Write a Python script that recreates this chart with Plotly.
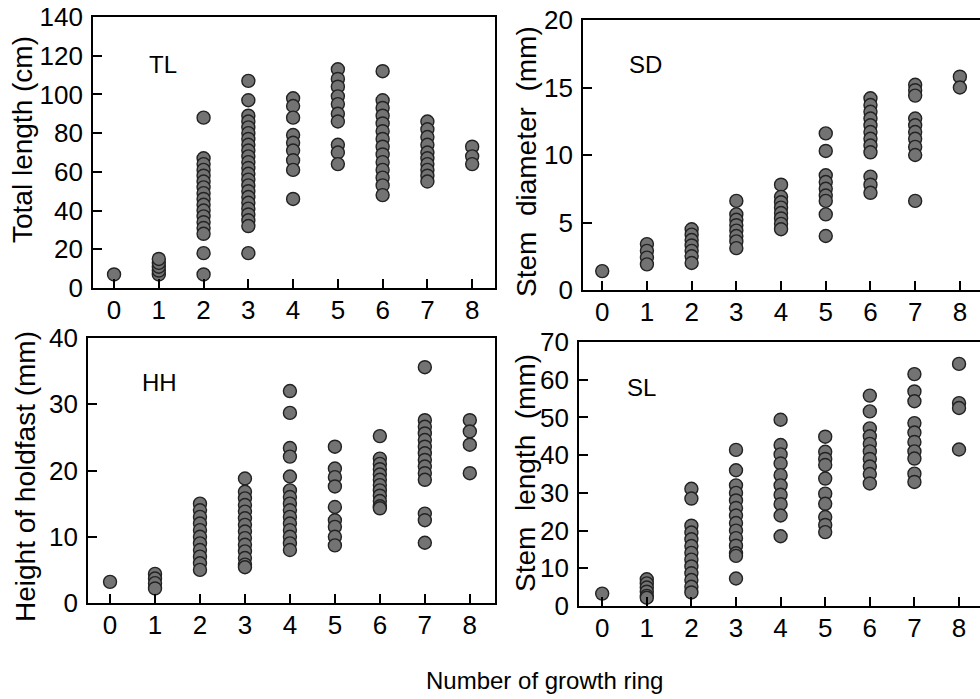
import plotly.graph_objects as go

# Growth-ring classes (x axis)
rings = [0, 1, 2, 3, 4, 5, 6, 7, 8]

# Measurements grouped by number of growth rings (one inner list per ring class)
total_length_cm = [
    [7],
    [7, 9, 11, 13, 15],
    [88, 67, 64, 61, 58, 55, 52, 49, 46, 43, 40, 37, 34, 31, 28, 18, 7],
    [107, 97, 89, 86, 83, 80, 77, 74, 71, 68, 65, 62, 59, 56, 53, 50, 47, 44, 41, 38, 35, 32, 18],
    [98, 94, 88, 79, 75, 71, 66, 61, 46],
    [113, 108, 104, 99, 95, 90, 86, 74, 70, 64],
    [112, 97, 93, 89, 85, 81, 77, 73, 69, 65, 61, 57, 53, 48],
    [86, 82, 78, 74, 70, 67, 64, 61, 58, 55],
    [73, 68, 64],
]

stem_diameter_mm = [
    [1.4],
    [3.4, 2.9, 2.4, 1.9],
    [4.5, 4.1, 3.7, 3.3, 2.9, 2.5, 2.0],
    [6.6, 5.6, 5.2, 4.8, 4.4, 4.0, 3.6, 3.1],
    [7.8, 6.9, 6.5, 6.1, 5.7, 5.3, 4.9, 4.5],
    [11.6, 10.3, 8.5, 8.0, 7.5, 7.0, 6.6, 5.6, 4.0],
    [14.2, 13.7, 13.2, 12.7, 12.2, 11.7, 11.2, 10.7, 10.2, 8.4, 7.8, 7.2],
    [15.2, 14.8, 14.4, 12.7, 12.2, 11.7, 11.2, 10.6, 10.0, 6.6],
    [15.8, 15.0],
]

holdfast_height_mm = [
    [3.2],
    [4.4, 3.7, 3.0, 2.2],
    [15.0, 14.0, 13.0, 12.0, 11.0, 10.0, 9.0, 8.0, 7.0, 6.0, 5.0],
    [18.8, 16.8, 15.8, 14.8, 13.8, 12.8, 11.8, 10.8, 9.8, 8.8, 7.8, 6.8, 5.8, 5.4],
    [32.0, 28.7, 23.4, 22.1, 19.1, 17.0, 16.0, 15.0, 14.0, 13.0, 12.0, 11.0, 10.0, 9.0, 8.0],
    [23.6, 20.3, 19.0, 17.6, 14.5, 12.5, 11.5, 10.0, 8.7],
    [25.2, 21.8, 21.0, 20.2, 19.4, 18.6, 17.8, 17.0, 16.2, 15.4, 14.6, 14.3],
    [35.6, 27.6, 26.6, 25.6, 24.6, 23.6, 22.6, 21.6, 20.6, 19.6, 18.6, 13.5, 12.5, 9.1],
    [27.6, 25.9, 23.9, 19.6],
]

stem_length_mm = [
    [3.3],
    [7.1, 6.0, 4.9, 3.8, 2.7, 2.2],
    [31.1, 28.5, 21.3, 19.5, 17.7, 15.9, 14.1, 12.3, 10.5, 8.7, 6.9, 5.1, 3.6],
    [41.4, 36.0, 32.0, 30.0, 28.0, 26.0, 24.0, 22.0, 20.0, 18.0, 16.0, 14.0, 13.3, 7.3],
    [49.4, 42.7, 40.2, 37.8, 34.7, 32.0, 29.5, 27.0, 24.0, 18.5],
    [44.9, 40.9, 39.0, 37.4, 33.8, 29.8, 27.1, 23.6, 21.5, 19.6],
    [55.8, 51.6, 47.1, 45.0, 43.0, 41.0, 39.0, 37.0, 35.0, 32.5],
    [61.5, 56.9, 54.3, 48.5, 46.0, 43.5, 41.0, 39.1, 35.1, 32.9],
    [64.2, 53.8, 52.5, 41.5],
]

panel_codes = ["TL", "SD", "HH", "SL"]
y_titles = [
    "Total length (cm)",
    "Stem\u00a0\u00a0diameter\u00a0\u00a0(mm)",
    "Height of holdfast (mm)",
    "Stem\u00a0\u00a0length\u00a0\u00a0(mm)",
]
y_maxima = [140, 20, 40, 70]
y_steps = [20, 5, 10, 10]
x_title = "Number of growth ring"

FONT = "Liberation Sans, Arial, Helvetica, sans-serif"

# Panel geometry in paper coordinates
x_domains = [[0.0949, 0.5051], [0.5949, 1.0], [0.0898, 0.5051], [0.5908, 1.0]]
y_domains = [[0.5880, 0.9757], [0.5851, 0.9714], [0.1373, 0.5164], [0.1330, 0.5107]]
x_ranges = [[-0.47, 8.51], [-0.43, 8.45], [-0.49, 8.56], [-0.52, 8.47]]
label_pos = [(147, 64), (627, 65), (140, 382), (625, 387)]
title_pos = [(22, 140), (526, 162), (25, 477), (525, 473)]

W, H = 980, 699

fig = go.Figure()
datasets = [total_length_cm, stem_diameter_mm, holdfast_height_mm, stem_length_mm]

for i, data in enumerate(datasets):
    xs, ys = [], []
    for r, vals in zip(rings, data):
        xs += [r] * len(vals)
        ys += vals
    sfx = "" if i == 0 else str(i + 1)
    fig.add_trace(go.Scatter(
        x=xs, y=ys, mode="markers",
        xaxis="x" + sfx, yaxis="y" + sfx,
        marker=dict(size=13, color="#737373", line=dict(color="#222222", width=1.4)),
        showlegend=False, hoverinfo="x+y",
    ))
    right_col = i in (1, 3)
    axis_common = dict(
        showgrid=False, zeroline=False, showline=True, linecolor="black", linewidth=1.6,
        ticks="inside", ticklen=9, tickwidth=1.5, tickcolor="black",
        tickfont=dict(family=FONT, size=26, color="black"),
        layer="above traces", automargin=False,
    )
    fig.update_layout(**{
        "xaxis" + sfx: dict(
            domain=x_domains[i], range=x_ranges[i], anchor="y" + sfx,
            tickmode="array", tickvals=rings, ticktext=[str(r) for r in rings],
            mirror=True, ticklabelstandoff=-2, **axis_common,
        ),
        "yaxis" + sfx: dict(
            domain=y_domains[i], range=[0, y_maxima[i]], anchor="x" + sfx,
            tickmode="linear", tick0=0, dtick=y_steps[i],
            mirror=not right_col, ticklabelstandoff=3, **axis_common,
        ),
    })
    lx, ly = label_pos[i]
    fig.add_annotation(
        x=lx / W, y=1 - ly / H, xref="paper", yref="paper", xanchor="left", yanchor="middle",
        text=panel_codes[i], showarrow=False, font=dict(family=FONT, size=24, color="black"),
    )
    tx, ty = title_pos[i]
    fig.add_annotation(
        x=tx / W, y=1 - ty / H, xref="paper", yref="paper", xanchor="center", yanchor="middle",
        text=y_titles[i], textangle=-90, showarrow=False,
        font=dict(family=FONT, size=28, color="black"),
    )

fig.add_annotation(
    x=544 / W, y=1 - 680 / H, xref="paper", yref="paper", xanchor="center", yanchor="middle",
    text=x_title, showarrow=False, font=dict(family=FONT, size=24, color="black"),
)

fig.update_layout(
    width=W, height=H, margin=dict(l=0, r=0, t=0, b=0, autoexpand=False),
    paper_bgcolor="white", plot_bgcolor="white",
)

fig.write_html("out.html")
